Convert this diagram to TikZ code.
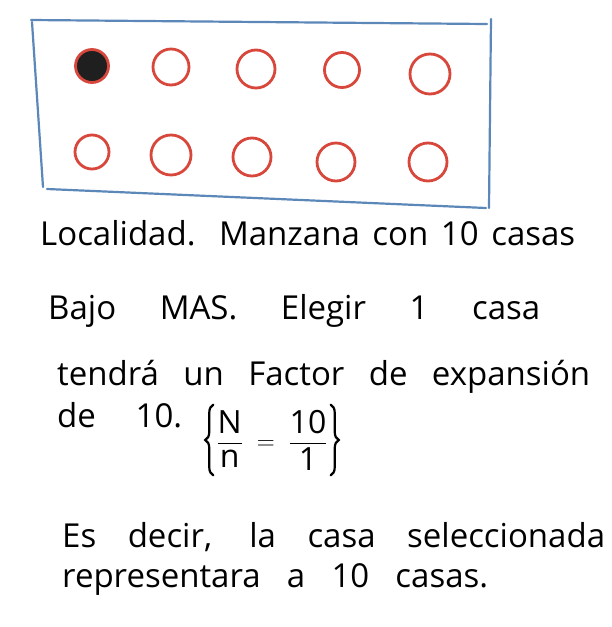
\documentclass[tikz,border=0pt]{standalone}
\usepackage{amsmath}
\usepackage{fontspec}
\setmainfont{Open Sans}
\usetikzlibrary{decorations.pathreplacing}
\definecolor{boxblue}{HTML}{5B87B9}
\definecolor{housered}{HTML}{D8473B}
\tikzset{
  edge/.style={draw=boxblue, line width=2.2pt, line cap=round},
  house/.style={circle, draw=housered, line width=2.8pt, inner sep=0pt},
  chosen/.style={house, fill=black!88},
  hand/.style={anchor=base west, inner sep=0pt, font=\fontsize{33}{38}\selectfont},
  curly/.style={decorate, decoration={brace, amplitude=8pt}, line width=2.2pt, line cap=round},
}
\newcommand{\handline}[2]{\makebox[#1][s]{#2}}

\begin{document}
\begin{tikzpicture}[x=1pt,y=-1pt]
\useasboundingbox (0,0) rectangle (611,627);

% the block
\draw[edge] (31,20) -- (487,24);
\draw[edge] (491,19) -- (489,208);
\draw[edge] (47,189) -- (486,208);
\draw[edge] (32,22) -- (43,187);

% houses, first row
\node[chosen, minimum size=33pt] (h1) at (92,66) {};
\node[house, minimum size=36pt] (h2) at (171,67) {};
\node[house, minimum size=38pt] (h3) at (256,69) {};
\node[house, minimum size=35pt] (h4) at (342,70) {};
\node[house, minimum size=40pt] (h5) at (430,74) {};

% houses, second row
\node[house, minimum size=34pt] (h6) at (92,152) {};
\node[house, minimum size=40pt] (h7) at (171,155) {};
\node[house, minimum size=38pt] (h8) at (252,157) {};
\node[house, minimum size=38pt] (h9) at (336,162) {};
\node[house, minimum size=38pt] (h10) at (428,162) {};

% text
\node[hand] (loc) at (40,245) {\handline{535pt}{Localidad. Manzana con 10 casas}};
\node[hand] (mas) at (48,319) {\handline{492pt}{Bajo MAS. Elegir 1 casa}};
\node[hand] (fac) at (57,385) {\handline{533pt}{tendrá un Factor de expansión}};
\node[hand] (de) at (57,427) {\handline{125pt}{de 10.}};
\node[inner xsep=3pt, inner ysep=5pt, font=\fontsize{32}{38}\selectfont] (frac) at (272,440)
  {$\dfrac{\text{N}}{\text{n}}\;=\;\dfrac{\text{10}}{\text{1}}$};
\draw[curly] (frac.south west) -- (frac.north west);
\draw[curly] (frac.north east) -- (frac.south east);
\node[hand] (es) at (62,547) {\handline{543pt}{Es decir, la casa seleccionada}};
\node[hand] (rep) at (62,587) {\handline{426pt}{representara a 10 casas.}};
\end{tikzpicture}
\end{document}
